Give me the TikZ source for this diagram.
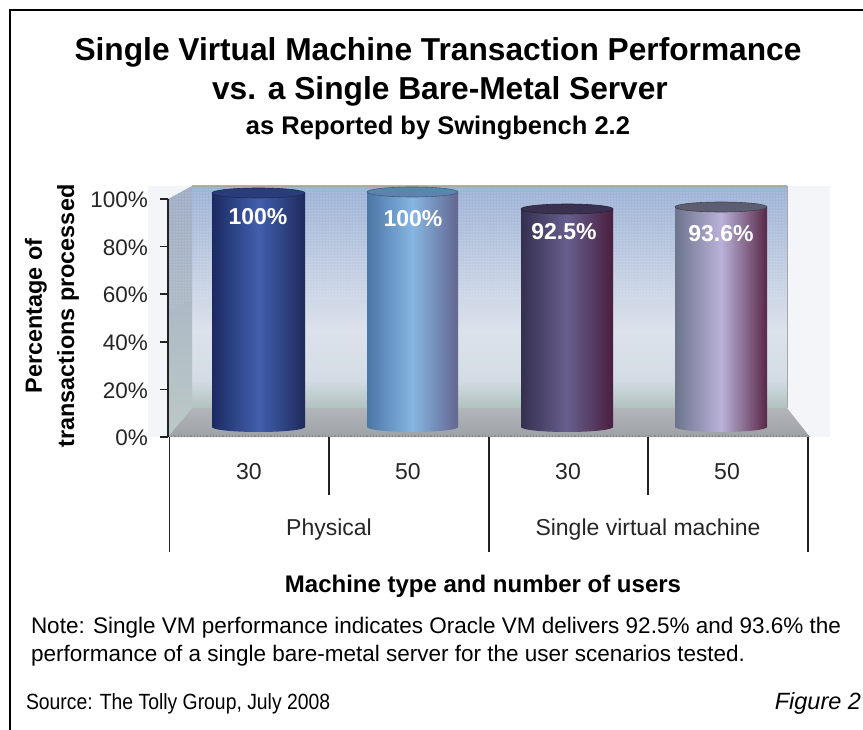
\documentclass[tikz,border=0pt]{standalone}
\usepackage{fontspec}
\setmainfont{Liberation Sans}
\newfontfamily\narrowfont[FakeStretch=0.88]{Liberation Sans}
\usetikzlibrary{patterns}
\definecolor{axisc}{HTML}{222222}
\definecolor{wallA}{HTML}{9DB2D6}
\definecolor{wallB}{HTML}{DCE2EB}
\definecolor{wallC}{HTML}{D3DCE4}
\definecolor{wallD}{HTML}{B0C2BE}
\definecolor{lwA}{HTML}{A0AEC6}
\definecolor{lwB}{HTML}{BCC8C6}
\definecolor{flA}{HTML}{B2B6BA}
\definecolor{flB}{HTML}{9EA2A7}
\definecolor{plotbg}{HTML}{F3F5F8}
\definecolor{aL}{HTML}{1B2A62}\definecolor{aM}{HTML}{4260AE}\definecolor{aR}{HTML}{1E2A5C}\definecolor{aT}{HTML}{2B3C7C}
\definecolor{bL}{HTML}{4B76A6}\definecolor{bM}{HTML}{86B6E2}\definecolor{bR}{HTML}{646690}\definecolor{bT}{HTML}{5C84AE}
\definecolor{cL}{HTML}{35304F}\definecolor{cM}{HTML}{675E8E}\definecolor{cR}{HTML}{4A1F3E}\definecolor{cT}{HTML}{3A3150}
\definecolor{dL}{HTML}{6C748C}\definecolor{dM}{HTML}{BAB2D9}\definecolor{dR}{HTML}{592848}\definecolor{dT}{HTML}{5E5E72}
\tikzset{
  txt/.style={inner sep=0pt, outer sep=0pt, text=black},
  barlbl/.style={inner sep=0pt, text=white, font=\fontsize{23}{25}\selectfont\bfseries},
  ticklbl/.style={inner sep=0pt, anchor=east, font=\fontsize{22.5}{24}\selectfont, text=black!85},
  catlbl/.style={inner sep=0pt, anchor=base, font=\fontsize{23}{25}\selectfont, text=black!85},
  axisline/.style={draw=axisc, line width=1.6pt},
  frameline/.style={draw=black, line width=2.5pt}
}
\newcommand\mycyl[8]{%
  \shade[left color=#5, right color=#7, middle color=#6]
    ({#1-#2},#3) -- ({#1-#2},#4) arc[start angle=180,end angle=360,x radius=#2pt,y radius=5pt] -- ({#1+#2},#3) -- cycle;
  \fill[#8] (#1,#3) ellipse[x radius=#2pt, y radius=5pt];
  \draw[#8!70!black, line width=0.6pt] (#1,#3) ellipse[x radius=#2pt, y radius=5pt];
}
\begin{document}
\begin{tikzpicture}[x=1pt,y=-1pt]
\useasboundingbox (0,0) rectangle (863,730);
\fill[white] (0,0) rectangle (863,730);
% frame
\draw[frameline] (10,730) -- (10,10) -- (863,10);
% title
\node[txt, anchor=base, font=\fontsize{31.7}{33}\selectfont\bfseries] (t1) at (438,61) {Single Virtual Machine Transaction Performance};
\node[txt, anchor=base, font=\fontsize{31.7}{33}\selectfont\bfseries] (t2) at (440,100) {vs. a Single Bare-Metal Server};
\node[txt, anchor=base, font=\fontsize{25.5}{27}\selectfont\bfseries] (t3) at (438,135) {as Reported by Swingbench 2.2};
% plot area background
\fill[plotbg] (148,186) rectangle (830,437);
% back wall
\shade[top color=wallA, bottom color=wallB] (192,186) rectangle (787,330);
\shade[top color=wallB, bottom color=wallC] (192,330) rectangle (787,380);
\shade[top color=wallC, bottom color=wallD] (192,380) rectangle (787,408);
\fill[pattern=dots, pattern color=white, opacity=0.6] (192,186) rectangle (787,300);
\draw[black!35, line width=0.6pt] (192,186) -- (787,186) -- (787,408);
% left wall
\shade[top color=lwA, bottom color=lwB] (168,199) -- (192,186) -- (192,408) -- (168,437) -- cycle;
\fill[pattern=dots, pattern color=white, opacity=0.5] (168,199) -- (192,186) -- (192,300) -- (168,310) -- cycle;
% floor
\shade[top color=flA, bottom color=flB] (168,437) -- (192,408) -- (787,408) -- (810,437) -- cycle;
\draw[black!45, line width=1.2pt, dotted] (168,436) -- (810,436);
% bars
\mycyl{258.5}{46.5}{193}{427}{aL}{aM}{aR}{aT}
\mycyl{412.5}{45.5}{192}{427}{bL}{bM}{bR}{bT}
\mycyl{567}{46}{209}{427}{cL}{cM}{cR}{cT}
\mycyl{721}{46}{207}{427}{dL}{dM}{dR}{dT}
\node[barlbl] (v1) at (258,217) {100\%};
\node[barlbl] (v2) at (413,219) {100\%};
\node[barlbl] (v3) at (564,232) {92.5\%};
\node[barlbl] (v4) at (721,234) {93.6\%};
% y axis
\draw[axisline] (168,199) -- (168,437);
\foreach \i/\lab in {0/100,1/80,2/60,3/40,4/20,5/0}{
  \draw[axisline] (160,{199+\i*47.6}) -- (168,{199+\i*47.6});
  \node[ticklbl] (y\i) at (148,{200+\i*47.6}) {\lab\%};
}
% x axis category lines
\foreach \xx/\yy in {169.5/552, 329/495, 489/552, 648/495, 808/552}{
  \draw[axisline] (\xx,437) -- (\xx,\yy);
}
\node[catlbl] (c1) at (249,479) {30};
\node[catlbl] (c2) at (408,479) {50};
\node[catlbl] (c3) at (568,479) {30};
\node[catlbl] (c4) at (727,479) {50};
\node[catlbl] (g1) at (329,535) {Physical};
\node[catlbl] (g2) at (648,535) {Single virtual machine};
% axis titles
\node[txt, anchor=base, font=\fontsize{24}{26}\selectfont\bfseries] (xt) at (483,592) {Machine type and number of users};
\node[txt, rotate=90, font=\fontsize{23.4}{25}\selectfont\bfseries] (ya) at (36,316) {Percentage of};
\node[txt, rotate=90, font=\fontsize{23.4}{25}\selectfont\bfseries] (yb) at (68,316) {transactions processed};
% note
\node[txt, anchor=base west, font=\fontsize{22.5}{24}\selectfont] (n1) at (31,633) {Note: Single VM performance indicates Oracle VM delivers 92.5\% and 93.6\% the};
\node[txt, anchor=base west, font=\fontsize{22.5}{24}\selectfont] (n2) at (31,661) {performance of a single bare-metal server for the user scenarios tested.};
\node[txt, anchor=base west, font=\fontsize{22}{24}\selectfont\narrowfont] (src) at (26,709) {Source: The Tolly Group, July 2008};
\node[txt, anchor=base east, font=\fontsize{23.5}{25}\selectfont\itshape] (fig) at (861,709) {Figure 2};
\end{tikzpicture}
\end{document}
